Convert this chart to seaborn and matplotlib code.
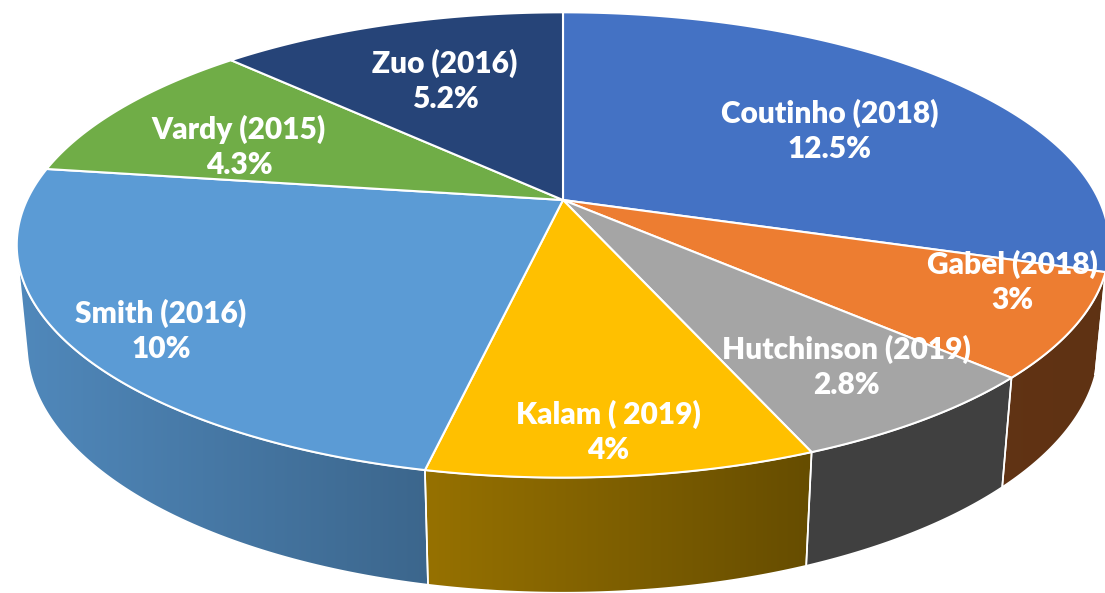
import numpy as np
import seaborn as sns
import matplotlib.pyplot as plt
from matplotlib.patches import Polygon
from matplotlib.colors import to_rgb

# data
names = ["Coutinho (2018)", "Gabel (2018)", "Hutchinson (2019)", "Kalam ( 2019)",
         "Smith (2016)", "Vardy (2015)", "Zuo (2016)"]
shares = [12.5, 3, 2.8, 4, 10, 4.3, 5.2]
pct_labels = ["12.5%", "3%", "2.8%", "4%", "10%", "4.3%", "5.2%"]

# styles
top_colors = ["#4472C4", "#ED7D31", "#A5A5A5", "#FFC000", "#5B9BD5", "#70AD47", "#264478"]
side_shade = [(0.40, 0.40), (0.41, 0.40), (0.39, 0.39), (0.59, 0.40),
              (0.88, 0.66), (0.6, 0.5), (0.6, 0.5)]
label_xy = [(830, 131), (1012, 282), (846, 367), (608, 432), (161, 331), (239, 147), (445, 81)]

sns.set_theme(style="white")
plt.rcParams['font.family'] = ['Lato', 'DejaVu Sans']

# perspective camera for the 3D pie
D, elev, foc = 4.7, np.radians(24.7), 2519.0
cx, cy = 563.0, 200.0
height = 0.2054


def proj(x, y, w=0.0):
    depth = D + y * np.cos(elev) - w * np.sin(elev)
    X = cx + foc * x / depth
    Y = cy - foc * (y * np.sin(elev) + w * np.cos(elev)) / depth
    return X, Y


fig = plt.figure(figsize=(11.05, 5.93), dpi=100)
ax = fig.add_axes([0, 0, 1, 1])
ax.set_xlim(0, 1105)
ax.set_ylim(593, 0)
ax.axis('off')

vals = np.array(shares, dtype=float)
cum = np.concatenate([[0], np.cumsum(vals)]) / vals.sum()
phi = 90 - 360 * cum  # clockwise from top, degrees

# visible part of the side wall
c = 1 / (D * np.cos(elev))
vis_lo = -180 + np.degrees(np.arcsin(c))
vis_hi = -np.degrees(np.arcsin(c))

# side walls
for i in range(len(vals)):
    lo = max(phi[i + 1], vis_lo)
    hi = min(phi[i], vis_hi)
    if lo >= hi:
        continue
    t = np.radians(np.linspace(hi, lo, 80))
    xt, yt = proj(np.cos(t), np.sin(t), 0)
    xb, yb = proj(np.cos(t), np.sin(t), -height)
    pts = np.column_stack([np.concatenate([xt, xb[::-1]]), np.concatenate([yt, yb[::-1]])])
    poly = Polygon(pts, closed=True, facecolor='none', edgecolor='white', lw=1.2, zorder=3)
    ax.add_patch(poly)
    base = np.array(to_rgb(top_colors[i]))
    k = np.linspace(side_shade[i][0], side_shade[i][1], 256)
    grad = (base[None, :] * k[:, None])[None, :, :]
    x0, x1 = pts[:, 0].min(), pts[:, 0].max()
    y0, y1 = pts[:, 1].min(), pts[:, 1].max()
    im = ax.imshow(grad, extent=(x0, x1, y1, y0), aspect='auto', zorder=2,
                   interpolation='bilinear')
    clip = Polygon(pts, closed=True, transform=ax.transData)
    im.set_clip_path(clip)

# top wedges
for i in range(len(vals)):
    t = np.radians(np.linspace(phi[i], phi[i + 1], 120))
    xr, yr = proj(np.cos(t), np.sin(t), 0)
    pts = np.column_stack([np.concatenate([[cx], xr]), np.concatenate([[cy], yr])])
    ax.add_patch(Polygon(pts, closed=True, facecolor=top_colors[i],
                         edgecolor='white', lw=1.5, zorder=4))

# labels
for (lx, ly), n, p in zip(label_xy, names, pct_labels):
    ax.text(lx, ly, n + "\n" + p, ha='center', va='center', color='white',
            fontsize=21.5, fontweight='heavy', linespacing=1.3, zorder=6)

plt.savefig('out.png', dpi=100)
